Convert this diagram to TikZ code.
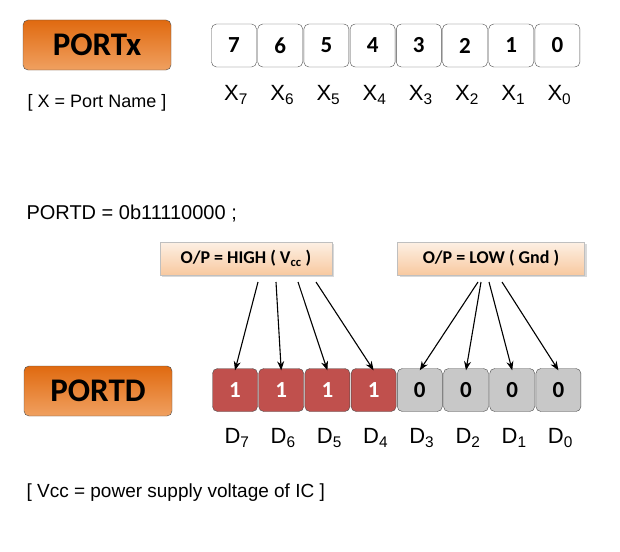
\documentclass[tikz,border=0pt]{standalone}
\usepackage{fontspec}
\setmainfont{Liberation Sans}
\newfontfamily\carl{Carlito}
\usetikzlibrary{arrows.meta,shadows}
\definecolor{org1}{HTML}{E06A10}
\definecolor{org2}{HTML}{F0A060}
\definecolor{red1}{HTML}{C0504D}
\definecolor{gry}{HTML}{C8C8C8}
\definecolor{peach1}{HTML}{FDF0E4}
\definecolor{peach2}{HTML}{F8C9A0}
\begin{document}
\begin{tikzpicture}[x=1pt,y=-1pt,
 port/.style={draw=black!70,rounded corners=5pt,top color=org1,bottom color=org2,minimum width=148pt,minimum height=50pt,font=\carl\bfseries\fontsize{33}{33}\selectfont},
 cell/.style={draw=black!70,rounded corners=5pt,minimum width=45pt,minimum height=43pt,font=\carl\bfseries\fontsize{23}{23}\selectfont},
 lbl/.style={font=\fontsize{22}{22}\selectfont},
 note/.style={draw=black!25,top color=peach1,bottom color=peach2,minimum height=33pt,font=\carl\bfseries\fontsize{18}{18}\selectfont,drop shadow={opacity=0.3,shadow xshift=2pt,shadow yshift=-2pt}},
 arr/.style={-{Stealth[length=9pt,width=7pt]},line width=1.1pt}]
\useasboundingbox (0,0) rectangle (620,551);
\node[port] (px) at (97,45) {PORTx};
\node[font=\fontsize{18}{18}\selectfont] (pn) at (97,103) {[ X = Port Name ]};
\foreach \i/\n in {0/7,1/6,2/5,3/4,4/3,5/2,6/1,7/0}{
 \node[cell,fill=white] (x\n) at (234+\i*46.2,45.5) {\n};
 \node[lbl] (xl\n) at (236+\i*46.2,95) {X\textsubscript{\n}};
}
\node[anchor=west,font=\fontsize{20}{20}\selectfont] (code) at (23,214) {PORTD = 0b11110000 ;};
\node[note,minimum width=172pt] (hi) at (246,258.5) {O/P = HIGH ( V\textsubscript{cc} )};
\node[note,minimum width=187pt] (lo) at (491,258.5) {O/P = LOW ( Gnd )};
\node[port] (pd) at (98,391) {PORTD};
\foreach \i/\n in {0/7,1/6,2/5,3/4}{
 \node[cell,fill=red1,text=white] (d\n) at (235+\i*46.2,390) {1};
}
\foreach \i/\n in {4/3,5/2,6/1,7/0}{
 \node[cell,fill=gry] (d\n) at (235+\i*46.2,390) {0};
}
\foreach \i/\n in {0/7,1/6,2/5,3/4,4/3,5/2,6/1,7/0}{
 \node[lbl] (dl\n) at (237+\i*46.2,438) {D\textsubscript{\n}};
}
\coordinate (h7) at (258,282); \coordinate (h6) at (276,282);
\coordinate (h5) at (298,282); \coordinate (h4) at (316,282);
\coordinate (l3) at (478,282); \coordinate (l2) at (481,282);
\coordinate (l1) at (489,282); \coordinate (l0) at (502,282);
\foreach \n in {7,6,5,4}{\draw[arr] (h\n) -- ([yshift=-2pt]d\n.north);}
\foreach \n in {3,2,1,0}{\draw[arr] (l\n) -- ([yshift=-2pt]d\n.north);}
\node[anchor=west,font=\fontsize{19}{19}\selectfont] (vcc) at (23,493) {[ Vcc = power supply voltage of IC ]};
\end{tikzpicture}
\end{document}
